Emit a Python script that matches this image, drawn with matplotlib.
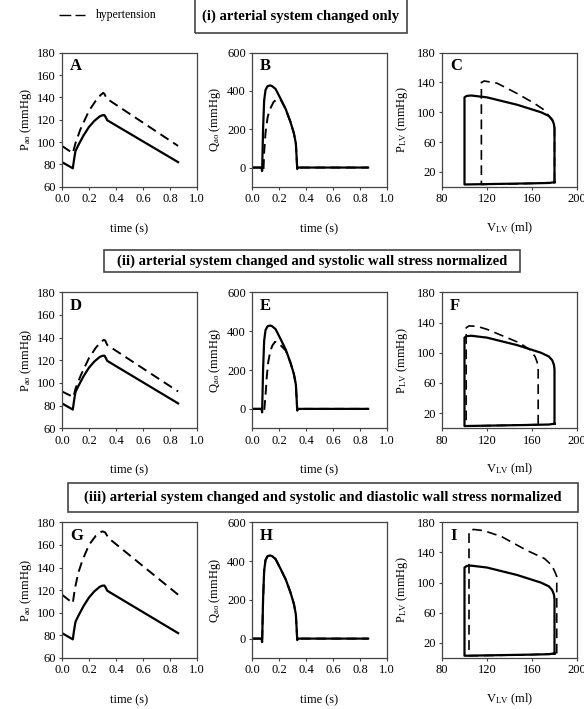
import numpy as np
import matplotlib
matplotlib.use('Agg')
import matplotlib.pyplot as plt
from matplotlib.patches import Rectangle
from matplotlib.lines import Line2D

plt.rcParams['font.family'] = ['Liberation Serif', 'DejaVu Serif']
plt.rcParams['mathtext.fontset'] = 'custom'
plt.rcParams['mathtext.rm'] = 'Liberation Serif'
plt.rcParams['mathtext.it'] = 'Liberation Serif:italic'
plt.rcParams['mathtext.bf'] = 'Liberation Serif:bold'
plt.rcParams['lines.scale_dashes'] = False

# ---- aortic pressure (mmHg) vs time (s) ----
t_p_norm = [0, 0.08, 0.09, 0.10, 0.12, 0.16, 0.20, 0.24, 0.28, 0.30, 0.315, 0.325, 0.335, 0.86]
p_norm = [82, 76.5, 85, 92, 97, 106, 113.5, 119, 123, 124, 124, 122, 119.5, 82]

t_p_A = [0, 0.08, 0.10, 0.135, 0.20, 0.25, 0.285, 0.305, 0.315, 0.33, 0.86]
p_A = [96.5, 90, 99, 111, 128, 137, 142, 144, 143, 139, 96.5]

t_p_D = [0, 0.085, 0.10, 0.14, 0.20, 0.25, 0.29, 0.31, 0.32, 0.335, 0.86]
p_D = [92.5, 87.5, 95, 107, 122, 131, 136.5, 138, 137.5, 133.5, 92.5]

t_p_G = [0, 0.08, 0.095, 0.12, 0.15, 0.20, 0.25, 0.29, 0.30, 0.32, 0.345, 0.86]
p_G = [116, 108.5, 121, 135, 146, 160, 168, 171.5, 172, 171, 166, 116]

# ---- aortic flow vs time ----
t_q_norm = [0, 0.07, 0.075, 0.082, 0.09, 0.10, 0.115, 0.135, 0.15, 0.175, 0.21, 0.25,
            0.285, 0.31, 0.325, 0.33, 0.335, 0.34, 0.86]
q_norm = [0, 0, -18, 200, 350, 405, 425, 429, 425, 410, 362, 305, 238, 180, 125, 60, -8, 0, 0]

t_q_B = [0, 0.08, 0.085, 0.09, 0.10, 0.115, 0.13, 0.16, 0.19, 0.215, 0.25, 0.285, 0.31,
         0.325, 0.33, 0.335, 0.34, 0.86]
q_B = [0, 0, -15, 80, 180, 260, 300, 343, 360, 352, 305, 238, 180, 125, 60, -8, 0, 0]

t_q_E = [0, 0.085, 0.09, 0.10, 0.11, 0.12, 0.135, 0.15, 0.17, 0.19, 0.22, 0.25, 0.285,
         0.31, 0.325, 0.33, 0.335, 0.34, 0.86]
q_E = [0, 0, -12, 66, 170, 240, 295, 325, 345, 342, 322, 300, 238, 180, 125, 60, -8, 0, 0]

t_q_H = t_q_norm
q_H = q_norm

# ---- LV pressure-volume loops ----
v_norm = [180, 180, 179.5, 178, 175, 168, 147, 120, 106, 102, 100, 100, 120, 140, 160, 175, 180]
plv_norm = [6, 78, 84, 90, 95, 100, 110, 120, 122.5, 122, 120, 3, 3.5, 4, 4.5, 5, 6]

v_C = [180, 180, 176.5, 171, 162, 147, 129, 117.5, 115, 115, 130, 150, 170, 180]
plv_C = [6, 85, 92, 103, 112, 125, 139, 142, 140, 3, 3.5, 4, 5, 6]

v_F = [165.5, 165.5, 164.5, 162.7, 158, 149, 134.5, 120, 111, 104, 101.5, 101.5, 120, 140, 165.5]
plv_F = [5, 79, 88, 95, 104, 113, 122, 131, 135, 135.5, 133, 3, 3.5, 4, 5]

v_I = [182, 182, 181, 177.6, 171, 155, 133, 117, 108, 104.5, 104, 104, 130, 160, 182]
plv_I = [6, 108, 112, 123, 132, 143, 161, 169, 170.5, 169, 166, 3, 3.5, 4.5, 6]

row_titles = ['(i) arterial system changed only',
              '(ii) arterial system changed and systolic wall stress normalized',
              '(iii) arterial system changed and systolic and diastolic wall stress normalized']

W, H = 584, 709
fig = plt.figure(figsize=(W / 100, H / 100), dpi=100)

def px_axes(left, top, w, h):
    return fig.add_axes([left / W, 1 - (top + h) / H, w / W, h / H])

def style(ax):
    for s in ax.spines.values():
        s.set_color('#444444')
        s.set_linewidth(0.9)
    ax.tick_params(direction='out', length=2.5, width=0.8, color='#444444',
                   labelsize=9, pad=2)

solid_kw = dict(color='black', lw=1.6, solid_joinstyle='round')
dash_kw = dict(color='black', lw=1.4, dashes=(7, 4))

col_left = [62, 252, 442]
row_top = [52.7, 292.3, 522.3]
row_h = [134, 136, 135.7]
ax_w = 135

pres_dashed = [(t_p_A, p_A), (t_p_D, p_D), (t_p_G, p_G)]
flow_dashed = [(t_q_B, q_B), (t_q_E, q_E), (t_q_H, q_H)]
pv_dashed = [(v_C, plv_C), (v_F, plv_F), (v_I, plv_I)]
letters = ['ABC', 'DEF', 'GHI']

for r in range(3):
    # pressure panel
    ax = px_axes(col_left[0], row_top[r], ax_w, row_h[r])
    ax.plot(t_p_norm, p_norm, **solid_kw)
    ax.plot(*pres_dashed[r], **dash_kw)
    ax.set_xlim(0, 1)
    ax.set_ylim(60, 180)
    ax.set_xticks(np.arange(0, 1.01, 0.2))
    ax.set_xticklabels(['%.1f' % v for v in np.arange(0, 1.01, 0.2)])
    ax.set_yticks(range(60, 181, 20))
    ax.set_ylabel(r'P$_{\rm ao}$ (mmHg)', fontsize=9, labelpad=2)
    ax.set_xlabel('time (s)', fontsize=9, labelpad=13)
    style(ax)
    ax.text(0.06, 0.9, letters[r][0], transform=ax.transAxes, fontsize=12,
            fontweight='bold', va='center')

    # flow panel
    ax = px_axes(col_left[1], row_top[r], ax_w, row_h[r])
    ax.plot(t_q_norm, q_norm, **solid_kw)
    ax.plot(*flow_dashed[r], **dash_kw)
    ax.set_xlim(0, 1)
    ax.set_ylim(-100, 600)
    ax.set_xticks(np.arange(0, 1.01, 0.2))
    ax.set_xticklabels(['%.1f' % v for v in np.arange(0, 1.01, 0.2)])
    ax.set_yticks([0, 200, 400, 600])
    ax.set_ylabel(r'Q$_{\rm ao}$ (mmHg)', fontsize=9, labelpad=3)
    ax.set_xlabel('time (s)', fontsize=9, labelpad=13)
    style(ax)
    ax.text(0.06, 0.9, letters[r][1], transform=ax.transAxes, fontsize=12,
            fontweight='bold', va='center')

    # PV loop panel
    ax = px_axes(col_left[2], row_top[r], ax_w, row_h[r])
    ax.plot(v_norm, plv_norm, **solid_kw)
    ax.plot(*pv_dashed[r], color='black', lw=1.2, dashes=(7, 4))
    ax.set_xlim(80, 200)
    ax.set_ylim(0, 180)
    ax.set_xticks([80, 120, 160, 200])
    ax.set_yticks([20, 60, 100, 140, 180])
    ax.set_ylabel(r'P$_{\rm LV}$ (mmHg)', fontsize=9, labelpad=5)
    ax.set_xlabel(r'V$_{\rm LV}$ (ml)', fontsize=9, labelpad=11)
    style(ax)
    ax.text(0.06, 0.9, letters[r][2], transform=ax.transAxes, fontsize=12,
            fontweight='bold', va='center')

# row title boxes (pixel coords: left, top, right, bottom)
boxes = [(195, -1, 407, 33), (104, 250, 520, 272), (68, 483, 578, 512)]
for (x0, y0, x1, y1), title in zip(boxes, row_titles):
    fig.patches.append(Rectangle((x0 / W, 1 - y1 / H), (x1 - x0) / W, (y1 - y0) / H,
                                 transform=fig.transFigure, fill=False,
                                 edgecolor='#444444', lw=1.2))
    fig.text((x0 + x1) / 2 / W, 1 - (max(y0, 0) + y1) / 2 / H, title, fontsize=10.5,
             fontweight='bold', ha='center', va='center')

# legend entry at top left
fig.add_artist(Line2D([59 / W, 85 / W], [1 - 15 / H, 1 - 15 / H], transform=fig.transFigure,
                      color='black', lw=1.0, dashes=(8.5, 3)))
fig.text(96 / W, 1 - 15 / H, 'hypertension', fontsize=8.5, va='center', ha='left')

fig.savefig('out.png', dpi=100)
